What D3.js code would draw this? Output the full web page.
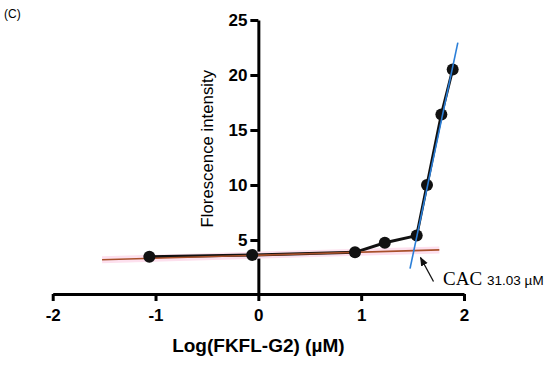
<!DOCTYPE html>
<html>
<head>
  <meta charset="utf-8">
  <title>CAC</title>
  <script src="https://d3js.org/d3.v7.min.js"></script>
  <style>
    body { margin: 0; background: #fff; }
  </style>
</head>
<body>
<div id="chart"></div>
<script>
  // data
  const logConc = [-1.06, -0.06, 0.94, 1.23, 1.54, 1.64, 1.78, 1.89];
  const intensity = [3.48, 3.64, 3.88, 4.75, 5.4, 10.0, 16.4, 20.5];
  const xTicks = [-2, -1, 0, 1, 2];
  const yTicks = [5, 10, 15, 20, 25];
  // fitted lines (two end points each)
  const baseFitX = [-1.52, 1.76];
  const baseFitY = [3.2, 4.1];
  const riseFitX = [1.475, 1.94];
  const riseFitY = [2.4, 22.95];
  const cacLabel = '31.03 µM';

  const W = 550, H = 365;
  const x = d3.scaleLinear().domain([-2, 2]).range([52.7, 464]);
  const y = d3.scaleLinear().domain([0, 25]).range([295, 20]);

  const svg = d3.select('#chart').append('svg')
      .attr('width', W).attr('height', H)
      .style('font-family', 'Arial, "Liberation Sans", sans-serif');

  svg.append('text').attr('x', 4).attr('y', 18)
     .attr('font-size', '12px').text('(C)');

  // axes
  const xAxis = d3.axisBottom(x).tickValues(xTicks).tickSize(7).tickSizeOuter(0).tickPadding(4)
      .tickFormat(d => String(d));   // plain hyphen like the original
  const gx = svg.append('g').attr('transform', `translate(0,${y(0) - 1})`).call(xAxis);
  gx.select('.domain').attr('stroke-width', 3);
  gx.selectAll('.tick line').attr('stroke-width', 3);
  gx.selectAll('.tick text').attr('font-size', '17px').attr('font-weight', 'bold')
    .attr('font-family', 'Arial, "Liberation Sans", sans-serif').attr('dy', '0.95em');

  const yAxis = d3.axisLeft(y).tickValues(yTicks).tickSize(8).tickSizeOuter(0).tickPadding(3);
  const gy = svg.append('g').attr('transform', `translate(${x(0)},0)`).call(yAxis);
  gy.select('.domain').attr('stroke-width', 3);
  gy.selectAll('.tick line').attr('stroke-width', 3);
  gy.selectAll('.tick text').attr('font-size', '17px').attr('font-weight', 'bold')
    .attr('font-family', 'Arial, "Liberation Sans", sans-serif');

  svg.append('text')
     .attr('transform', `translate(213,${y(13.3)}) rotate(-90)`)
     .attr('text-anchor', 'middle')
     .attr('font-size', '16.8px')
     .text('Florescence intensity');

  svg.append('text')
     .attr('x', x(0)).attr('y', 352)
     .attr('text-anchor', 'middle')
     .attr('font-size', '19px').attr('font-weight', 'bold')
     .text('Log(FKFL-G2) (µM)');

  // base fit line with pink halo
  const fitLine = (xs, ys) => d3.line()([[x(xs[0]), y(ys[0])], [x(xs[1]), y(ys[1])]]);
  svg.append('path').attr('d', fitLine(baseFitX, baseFitY))
     .attr('stroke', '#fde0ee').attr('stroke-width', 7);

  // data line and markers
  const pts = logConc.map((d, i) => [x(d), y(intensity[i])]);
  svg.append('path').attr('d', d3.line()(pts))
     .attr('fill', 'none').attr('stroke', '#111').attr('stroke-width', 3);

  svg.append('path').attr('d', fitLine(baseFitX, baseFitY))
     .attr('stroke', '#a8502a').attr('stroke-width', 1.6);

  svg.selectAll('circle.pt').data(pts).enter().append('circle')
     .attr('class', 'pt')
     .attr('cx', d => d[0]).attr('cy', d => d[1]).attr('r', 6)
     .attr('fill', '#111');

  svg.append('path').attr('d', fitLine(riseFitX, riseFitY))
     .attr('stroke', '#2b7fd8').attr('stroke-width', 1.6);

  // arrow + label
  svg.append('defs').append('marker')
     .attr('id', 'ah').attr('viewBox', '0 0 10 10').attr('refX', 9).attr('refY', 5)
     .attr('markerWidth', 7).attr('markerHeight', 7).attr('orient', 'auto')
     .append('path').attr('d', 'M0,1 L10,5 L0,9 Z').attr('fill', '#111');
  svg.append('line')
     .attr('x1', 433.5).attr('y1', 281.5).attr('x2', 420.5).attr('y2', 257.5)
     .attr('stroke', '#111').attr('stroke-width', 1.3).attr('marker-end', 'url(#ah)');

  const lab = svg.append('text').attr('x', 443).attr('y', 285);
  lab.append('tspan').attr('font-family', '"Liberation Serif", "Times New Roman", serif')
     .attr('font-size', '19px').text('CAC');
  lab.append('tspan').attr('dx', 5).attr('font-size', '13.5px').text(cacLabel);
</script>
</body>
</html>
